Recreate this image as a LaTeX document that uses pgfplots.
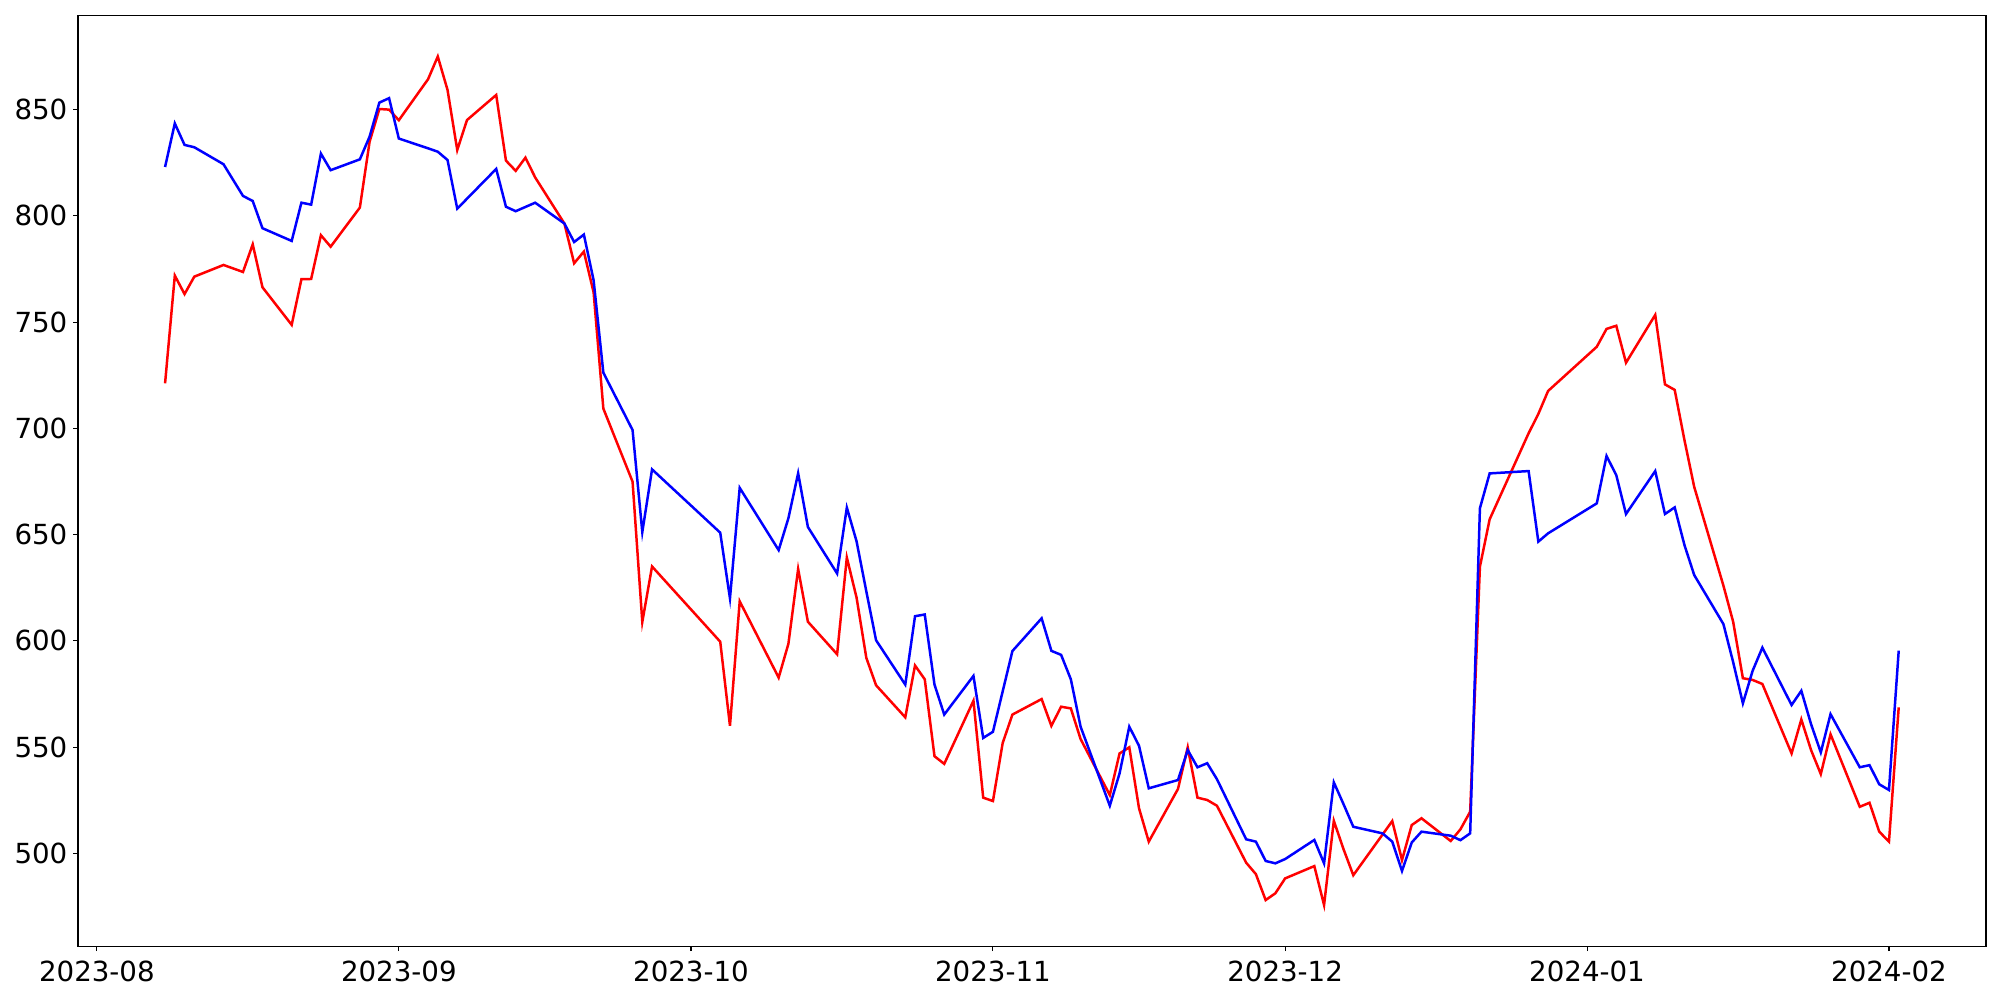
\documentclass[border=0pt]{standalone}
\usepackage{fontspec}
\setmainfont{DejaVu Sans}
\usepackage{pgfplots}
\pgfplotsset{compat=1.18}

% days counted from 2023-08-01
\begin{document}
\fontsize{20}{24}\selectfont
\begin{tikzpicture}
\begin{axis}[
    at={(0,0)}, anchor=south west,
    scale only axis,
    width=19.08in, height=9.311in,
    xmin=-1.94, xmax=193.96,
    ymin=456.2, ymax=894.4,
    xtick={0,31,61,92,122,153,184},
    xticklabels={2023-08,2023-09,2023-10,2023-11,2023-12,2024-01,2024-02},
    ytick={500,550,600,650,700,750,800,850},
    tick align=outside,
    tick pos=left,
    major tick length=3.5pt,
    every tick/.style={black, line width=0.8pt},
    axis line style={line width=0.8pt},
    /pgf/number format/assume math mode=true,
    ticklabel style={font=\fontsize{20}{24}\selectfont, inner sep=0pt},
    xticklabel style={anchor=north, yshift=-7pt},
    yticklabel style={anchor=east, xshift=-4pt},
    ]

\addplot[color=red, line width=1.8pt, mark=none] coordinates {
(7,721.2)(8,771.9)(9,763.2)(10,771.4)(13,776.9)(15,773.6)(16,786.6)(17,766.4)
(20,748.7)(21,770.2)(22,770.3)(23,790.9)(24,785.5)(27,803.9)(28,834.9)(29,850.3)
(30,850.0)(31,845.0)(34,864.3)(35,875.0)(36,859.3)(37,831.0)(38,845.1)(41,856.9)
(42,826.0)(43,821.2)(44,827.4)(45,818.1)(48,796.4)(49,777.7)(50,783.2)(51,764.0)
(52,709.3)(55,674.9)(56,608.9)(57,635.0)(64,599.6)(65,560.0)(66,618.6)(70,582.7)
(71,598.6)(72,633.8)(73,609.0)(76,593.7)(77,639.2)(78,620.3)(79,592.0)(80,579.1)
(83,564.0)(84,588.4)(85,581.9)(86,545.7)(87,542.1)(90,571.8)(91,526.2)(92,524.6)
(93,551.9)(94,565.3)(97,572.6)(98,560.0)(99,569.0)(100,568.2)(101,553.8)(104,527.4)
(105,547.0)(106,549.9)(107,521.2)(108,505.5)(111,530.3)(112,549.9)(113,526.2)(114,525.1)
(115,522.4)(118,495.6)(119,490.2)(120,478.0)(121,481.2)(122,488.2)(125,494.0)(126,475.7)
(127,515.3)(128,501.9)(129,489.7)(133,515.2)(134,496.8)(135,513.3)(136,516.5)(139,505.8)
(140,511.3)(141,519.6)(142,634.9)(143,657.2)(147,697.7)(148,706.8)(149,717.6)(154,738.4)
(155,746.8)(156,748.3)(157,730.9)(160,753.4)(161,720.7)(162,718.1)(163,694.5)(164,672.5)
(167,626.0)(168,609.0)(169,582.4)(170,581.6)(171,579.7)(174,547.0)(175,563.0)(176,548.6)
(177,537.3)(178,556.0)(181,521.9)(182,523.8)(183,510.2)(184,505.5)(185,568.7)
};

\addplot[color=blue, line width=1.8pt, mark=none] coordinates {
(7,823.0)(8,843.5)(9,833.4)(10,832.3)(13,824.3)(15,809.4)(16,807.0)(17,794.2)
(20,788.2)(21,806.2)(22,805.3)(23,829.3)(24,821.5)(27,826.6)(28,837.3)(29,853.3)
(30,855.4)(31,836.4)(34,831.8)(35,830.2)(36,826.3)(37,803.4)(41,822.1)(42,804.3)
(43,802.2)(45,806.2)(48,796.4)(49,787.7)(50,791.2)(51,769.7)(52,726.2)(55,699.2)
(56,651.2)(57,680.7)(64,650.9)(65,620.0)(66,672.0)(70,642.7)(71,657.7)(72,678.9)
(73,653.6)(76,631.7)(77,662.7)(78,646.8)(79,623.3)(80,600.3)(83,579.4)(84,611.6)
(85,612.4)(86,579.4)(87,565.3)(90,583.5)(91,554.3)(92,557.2)(94,595.2)(97,610.6)
(98,595.3)(99,593.4)(100,581.9)(101,559.6)(104,522.4)(105,537.6)(106,559.6)(107,550.6)
(108,530.6)(111,534.5)(112,548.6)(113,540.5)(114,542.4)(115,534.9)(118,506.6)(119,505.5)
(120,496.4)(121,495.3)(122,497.3)(125,506.3)(126,495.3)(127,533.4)(128,523.1)(129,512.5)
(132,509.4)(133,505.5)(134,491.7)(135,505.1)(136,510.2)(139,508.3)(140,506.2)(141,509.4)
(142,662.4)(143,678.8)(147,679.9)(148,646.7)(149,650.6)(154,664.7)(155,687.0)(156,678.0)
(157,659.7)(160,679.9)(161,659.7)(162,662.8)(163,645.1)(164,631.0)(167,607.9)(168,590.0)
(169,570.6)(170,585.9)(171,596.8)(174,569.8)(175,576.5)(176,560.8)(177,547.5)(178,565.5)
(181,540.5)(182,541.5)(183,532.5)(184,529.8)(185,595.4)
};

\end{axis}
\pgfresetboundingbox
\path[use as bounding box] (-0.78in,-0.536in) rectangle (19.22in,9.464in);
\end{tikzpicture}
\end{document}
